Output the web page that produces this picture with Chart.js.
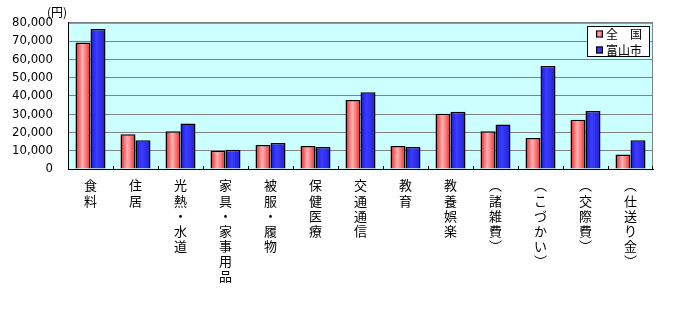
<!DOCTYPE html>
<html>
<head>
<meta charset="utf-8">
<script src="https://cdn.jsdelivr.net/npm/chart.js@4"></script>
<style>
  html, body { margin: 0; padding: 0; background: #fff; }
  #wrap { width: 700px; height: 310px; }
</style>
</head>
<body>
<div id="wrap"><canvas id="kakei" width="700" height="310"></canvas></div>
<script>
// 費目（縦書き：一文字ずつ）
const categories = [
	'食料', '住居', '光熱・水道', '家具・家事用品', '被服・履物', '保健医療',
	'交通通信', '教育', '教養娯楽', '︵諸雑費︶', '︵こづかい︶', '︵交際費︶', '︵仕送り金︶'
];
const zenkoku = [69200, 19000, 20600, 10000, 13200, 12600, 37700, 12600, 30200, 20600, 16900, 27000, 7900];
const toyama  = [76600, 15800, 24900, 10500, 14200, 12100, 42000, 12100, 31300, 24400, 56400, 31800, 15800];
const seriesNames = ['全　国', '富山市'];
const yTicks = [0, 10000, 20000, 30000, 40000, 50000, 60000, 70000, 80000];

const FONT = '"Noto Sans CJK JP", "Liberation Sans", sans-serif';
const NUM_FONT = '"Liberation Sans Narrow", "DejaVu Sans Condensed", sans-serif';
const CAT_PCT = 0.667;

function barGradient(c, stops, fallback) {
	const xs = c.chart.scales.x;
	if (!xs || !xs.width) return fallback;
	const center = xs.getPixelForValue(c.dataIndex);
	const bw = xs.width / categories.length * CAT_PCT / 2;
	const left = c.datasetIndex === 0 ? center - bw : center;
	const g = c.chart.ctx.createLinearGradient(left, 0, left + bw, 0);
	stops.forEach(s => g.addColorStop(s[0], s[1]));
	return g;
}
const redStops  = [[0, '#F01818'], [0.45, '#FFB4B4'], [1, '#F02828']];
const blueStops = [[0, '#1818D8'], [0.4, '#3C3CFF'], [1, '#2020D0']];

// プロット領域の背景と枠
const plotBg = {
	id: 'plotBg',
	beforeDraw(chart) {
		const { ctx, chartArea: a } = chart;
		ctx.save();
		ctx.fillStyle = '#CCFFFF';
		ctx.fillRect(a.left, a.top, a.right - a.left, a.bottom - a.top);
		ctx.strokeStyle = '#808080';
		ctx.lineWidth = 1;
		ctx.strokeRect(a.left + 0.5, a.top + 0.5, a.right - a.left - 1, a.bottom - a.top);
		ctx.restore();
	},
	afterDatasetsDraw(chart) {
		const { ctx, chartArea: a, scales } = chart;
		const xs = scales.x;
		ctx.save();
		ctx.strokeStyle = '#000';
		ctx.lineWidth = 1;
		for (let i = 1; i <= categories.length; i++) {
			const x = i < categories.length
				? Math.round((xs.getPixelForValue(i - 1) + xs.getPixelForValue(i)) / 2) + 0.5
				: a.right - 0.5;
			ctx.beginPath();
			ctx.moveTo(x, a.bottom - 3);
			ctx.lineTo(x, a.bottom);
			ctx.stroke();
		}
		// 単位
		ctx.fillStyle = '#000';
		ctx.font = '12px ' + FONT;
		ctx.textBaseline = 'middle';
		ctx.fillText('(円)', 47, 12);
		ctx.restore();
	}
};

// 凡例（枠付き）
const boxLegend = {
	id: 'boxLegend',
	afterDraw(chart) {
		const ctx = chart.ctx;
		const x = 587, y = 26, w = 62, h = 30;
		ctx.save();
		ctx.fillStyle = '#fff';
		ctx.fillRect(x, y, w, h);
		ctx.strokeStyle = '#000';
		ctx.lineWidth = 1;
		ctx.strokeRect(x + 0.5, y + 0.5, w, h);
		ctx.font = '12px ' + FONT;
		ctx.textBaseline = 'middle';
		const swatch = [redStops, blueStops];
		seriesNames.forEach((name, i) => {
			const cy = y + 7.5 + i * 16;
			const g = ctx.createLinearGradient(596, 0, 603, 0);
			swatch[i].forEach(s => g.addColorStop(s[0], s[1]));
			ctx.fillStyle = g;
			ctx.fillRect(596, cy - 3, 7, 7);
			ctx.strokeRect(596.5, cy - 2.5, 6, 6);
			ctx.fillStyle = '#000';
			ctx.fillText(name, 606, cy + 1);
		});
		ctx.restore();
	}
};

const kakeiChart = new Chart(document.getElementById('kakei').getContext('2d'), {
	type    : 'bar',
	data    : {
		labels   : categories.map(s => Array.from(s)),
		datasets : [
			{
				label           : seriesNames[0],
				data            : zenkoku,
				backgroundColor : c => barGradient(c, redStops, '#FF7070'),
				borderColor     : '#000',
				borderWidth     : 1.5
			},
			{
				label           : seriesNames[1],
				data            : toyama,
				backgroundColor : c => barGradient(c, blueStops, '#3333FF'),
				borderColor     : '#000',
				borderWidth     : 1.5
			}
		]
	},
	options : {
		responsive : false,
		animation  : false,
		layout     : { padding: { left: 0, top: 19, right: 47, bottom: 0 } },
		plugins    : { legend: { display: false }, tooltip: { enabled: false } },
		datasets   : { bar: { categoryPercentage: CAT_PCT, barPercentage: 1 } },
		scales     : {
			x : {
				grid   : { display: false, drawTicks: false },
				border : { color: '#000', width: 1 },
				ticks  : {
					autoSkip    : false,
					maxRotation : 0,
					padding     : 9,
					color       : '#000',
					font        : { family: FONT, size: 13, lineHeight: 1.16 }
				},
				afterFit : s => { s.height = 141; }
			},
			y : {
				min    : 0,
				max    : 80000,
				grid   : { color: '#808080', drawTicks: false },
				border : { color: '#000', width: 1 },
				afterBuildTicks : s => { s.ticks = yTicks.map(v => ({ value: v })); },
				ticks  : {
					autoSkip : false,
					padding  : 15,
					color    : '#000',
					font     : { family: NUM_FONT, size: 13 },
					callback : v => v.toLocaleString('en-US')
				},
				afterFit : s => { s.width = 68; }
			}
		}
	},
	plugins : [plotBg, boxLegend]
});
</script>
</body>
</html>
